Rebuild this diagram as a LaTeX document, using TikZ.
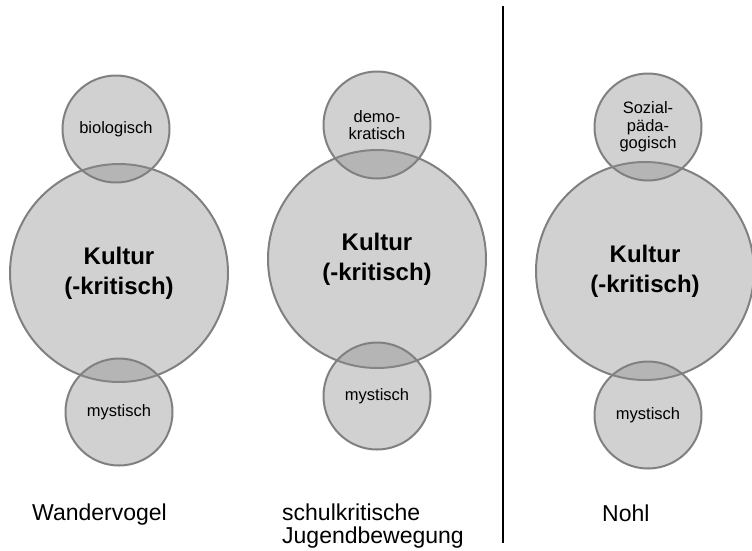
\documentclass[tikz,border=0pt]{standalone}
\usepackage{fontspec}
\setmainfont{Liberation Sans}

\begin{document}
\begin{tikzpicture}[
        x=1pt, y=-1pt,
        bubble/.style={circle, draw=black!50, line width=2pt, fill=black!45, fill opacity=0.4, text opacity=1, inner sep=0pt, align=center},
        big/.style={bubble, minimum size=218pt, font=\fontsize{24}{30}\selectfont\bfseries},
        small/.style={bubble, minimum size=107pt, font=\fontsize{16.5}{17.5}\selectfont},
        movement/.style={anchor=base west, align=left, inner sep=0pt, font=\fontsize{23}{23}\selectfont}
    ]
        \useasboundingbox (0,0) rectangle (752,550);

        % ----------------------------------------------------
        % WANDERVOGEL
        % ----------------------------------------------------
        \node[big] (kultur1) at (119, 273) {Kultur\\(-kritisch)};
        \node[small] (bio) at (116, 129) {biologisch};
        \node[small] (myst1) at (119, 412) {mystisch};

        % ----------------------------------------------------
        % SCHULKRITISCHE JUGENDBEWEGUNG
        % ----------------------------------------------------
        \node[big] (kultur2) at (377, 259) {Kultur\\(-kritisch)};
        \node[small] (demo) at (377, 125) {demo-\\kratisch};
        \node[small] (myst2) at (377, 396) {mystisch};

        % ----------------------------------------------------
        % NOHL
        % ----------------------------------------------------
        \node[big] (kultur3) at (645, 271) {Kultur\\(-kritisch)};
        \node[small] (sozial) at (648, 127) {Sozial-\\päda-\\gogisch};
        \node[small] (myst3) at (648, 415) {mystisch};

        % ----------------------------------------------------
        % SEPARATOR AND CAPTIONS
        % ----------------------------------------------------
        \coordinate (sepTop) at (503, 6);
        \coordinate (sepBottom) at (503, 543);
        \draw[line width=2.5pt] (sepTop) -- (sepBottom);

        \node[movement] (wander) at (32, 520) {Wandervogel};
        \node[movement] (schul) at (282, 543) {schulkritische\\Jugendbewegung};
        \node[movement] (nohl) at (602, 521) {Nohl};

    \end{tikzpicture}
\end{document}
